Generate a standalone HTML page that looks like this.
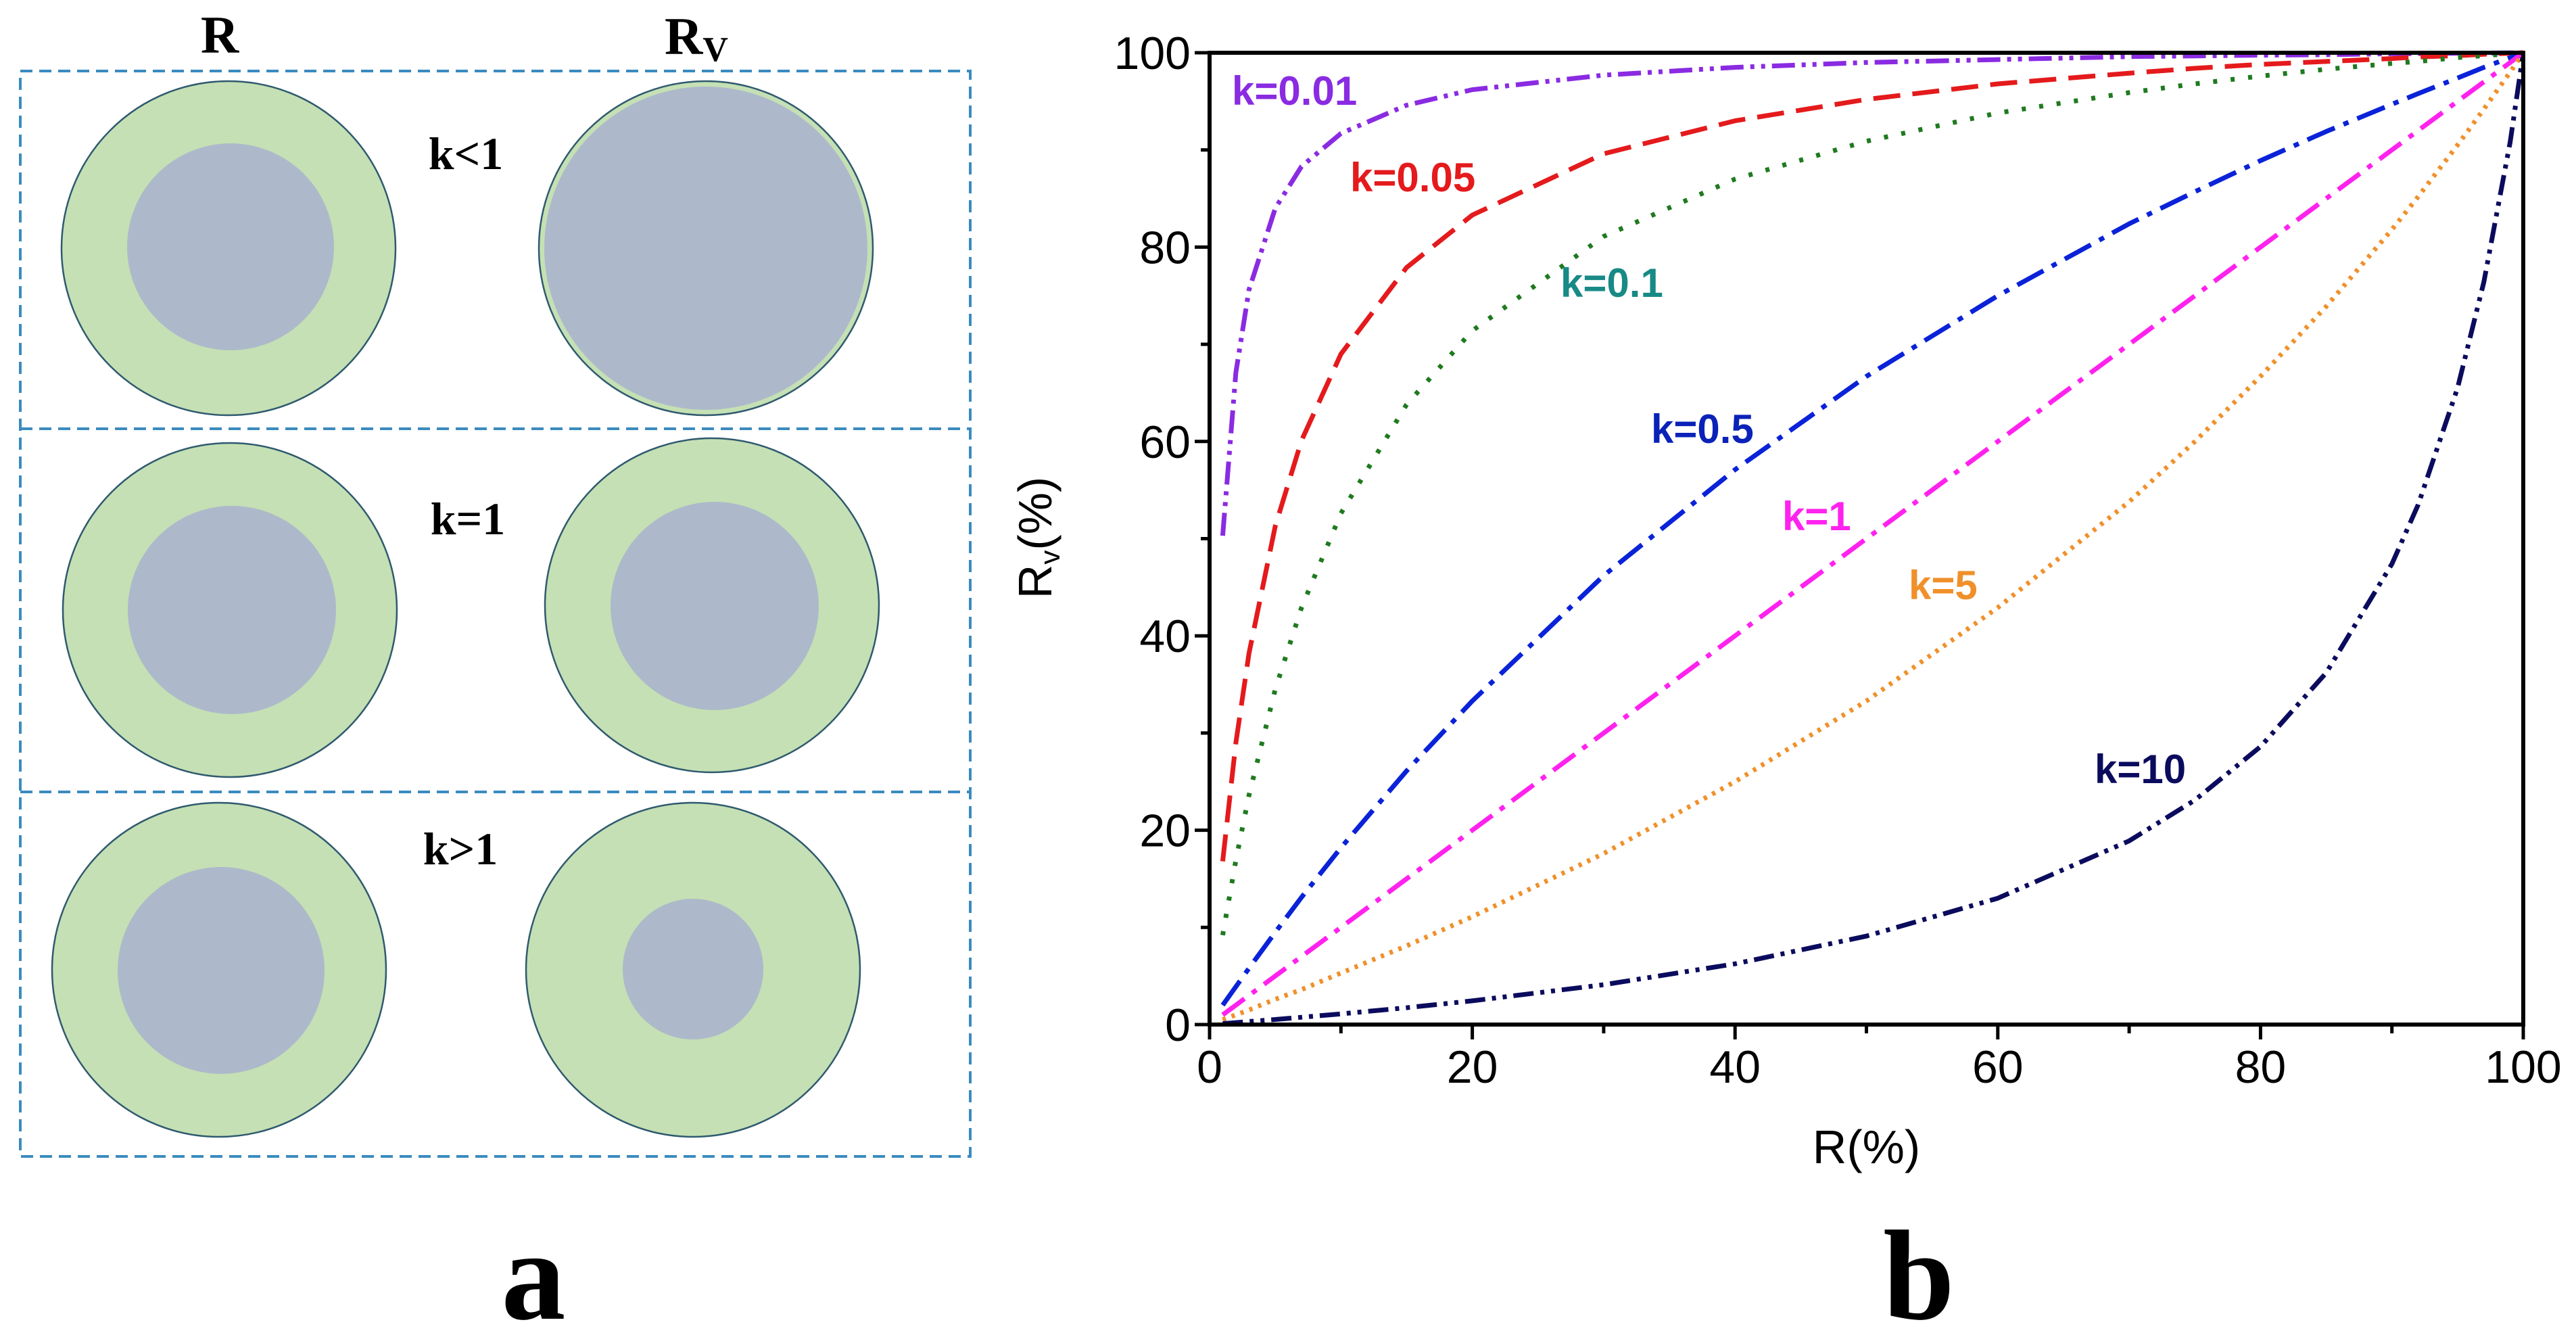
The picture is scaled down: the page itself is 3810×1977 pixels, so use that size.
<!DOCTYPE html>
<html><head><meta charset="utf-8"><style>
html,body{margin:0;padding:0;background:#fff;}
svg{display:block;}
</style></head><body>
<svg id="fig" width="3810" height="1977" viewBox="0 0 3810 1977" xmlns="http://www.w3.org/2000/svg">
<g id="panelA">
  <g fill="none" stroke="#3a8bbf" stroke-width="4" stroke-dasharray="18,10">
    <rect x="30" y="105" width="1405" height="1605"/>
    <line x1="30" y1="634" x2="1435" y2="634"/>
    <line x1="30" y1="1171" x2="1435" y2="1171"/>
  </g>
  <g stroke="#2f5a6f" stroke-width="2.5">
    <circle cx="338" cy="367" r="247" fill="#c5e0b4"/>
    <circle cx="341" cy="365" r="153" fill="#adb9ca" stroke="none"/>
    <circle cx="1044" cy="367" r="247" fill="#c5e0b4"/>
    <circle cx="1044" cy="367" r="239" fill="#adb9ca" stroke="none"/>
    <circle cx="340" cy="902" r="247" fill="#c5e0b4"/>
    <circle cx="343" cy="902" r="154" fill="#adb9ca" stroke="none"/>
    <circle cx="1053" cy="895" r="247" fill="#c5e0b4"/>
    <circle cx="1057" cy="896" r="154" fill="#adb9ca" stroke="none"/>
    <circle cx="324" cy="1434" r="247" fill="#c5e0b4"/>
    <circle cx="327" cy="1435" r="153" fill="#adb9ca" stroke="none"/>
    <circle cx="1025" cy="1434" r="247" fill="#c5e0b4"/>
    <circle cx="1025" cy="1433" r="104" fill="#adb9ca" stroke="none"/>
  </g>
  <g font-family="Liberation Serif, serif" font-weight="bold" fill="#000" text-anchor="middle">
    <text x="325" y="78" font-size="78">R</text>
    <text x="1030" y="80" font-size="78">R<tspan font-size="52" dy="10">V</tspan></text>
    <text x="689" y="250" font-size="68">k&lt;1</text>
    <text x="692" y="790" font-size="68">k=1</text>
    <text x="681" y="1278" font-size="68">k&gt;1</text>
    <text x="789" y="1950" font-size="190">a</text>
    <text x="2838" y="1950" font-size="190">b</text>
  </g>
</g>
<g id="chart"></g>
</svg>
<script>
const rValues = [1,2,3,5,7,10,15,20,30,40,50,60,70,75,80,85,90,92,95,97,99,100];
const seriesK001 = [50.3,67.1,75.6,84.0,88.3,91.7,94.6,96.2,97.7,98.5,99.0,99.3,99.6,99.67,99.75,99.8,99.9,99.91,99.95,99.97,99.99,100];
const seriesK005 = [16.8,29.0,38.2,51.3,60.1,69.0,77.9,83.3,89.6,93.0,95.2,96.8,97.9,98.4,98.8,99.1,99.4,99.57,99.7,99.85,99.95,100];
const seriesK01 = [9.2,16.9,23.6,34.5,42.9,52.6,63.8,71.4,81.1,87.0,90.9,93.8,95.9,96.8,97.6,98.3,98.9,99.1,99.5,99.7,99.9,100];
const seriesK05 = [2.0,3.9,5.8,9.5,13.1,18.2,26.1,33.3,46.2,57.1,66.7,75.0,82.4,85.7,88.9,91.9,94.7,95.8,97.4,98.5,99.5,100];
const seriesK1 = [1,2,3,5,7,10,15,20,30,40,50,60,70,75,80,85,90,92,95,97,99,100];
const seriesK5 = [0.5,1.0,1.5,2.6,3.6,5.3,8.1,11.1,17.6,25.0,33.3,42.9,53.8,60.0,66.7,73.9,81.8,85.2,90.5,94.2,98.0,100];
const seriesK10 = [0.1,0.2,0.31,0.52,0.75,1.1,1.73,2.44,4.1,6.25,9.1,13.0,18.9,23.1,28.6,36.2,47.4,53.5,65.5,76.4,90.8,100];
const xTickLabels = ["0","20","40","60","80","100"];
const yTickLabels = ["0","20","40","60","80","100"];

const NS = "http://www.w3.org/2000/svg";
const chart = document.getElementById("chart");
const X0 = 1789, X1 = 3732, Y0 = 1515, Y1 = 78;
function xs(v){ return X0 + (X1 - X0) * v / 100; }
function ys(v){ return Y0 - (Y0 - Y1) * v / 100; }
function mk(tag, attrs){ const e = document.createElementNS(NS, tag); for (const k in attrs) e.setAttribute(k, attrs[k]); chart.appendChild(e); return e; }

const series = [
  {d: seriesK001, c: "#8a2be2", dash: "34,10,6,10,6,10", name: "k-0-01", label: "k=0.01", lc: "#8a2be2", lx: 1822, ly: 139},
  {d: seriesK005, c: "#e41a1c", dash: "40,18", name: "k-0-05", label: "k=0.05", lc: "#e41a1c", lx: 1997, ly: 267},
  {d: seriesK01, c: "#1f7a1f", dash: "6,20", name: "k-0-1", label: "k=0.1", lc: "#178a86", lx: 2308, ly: 423},
  {d: seriesK05, c: "#0a22d8", dash: "44,14,8,14", name: "k-0-5", label: "k=0.5", lc: "#0a22b8", lx: 2442, ly: 639},
  {d: seriesK1, c: "#ff22ee", dash: "40,14,8,14", name: "k-1", label: "k=1", lc: "#ff22ee", lx: 2636, ly: 768},
  {d: seriesK5, c: "#f0902a", dash: "5,9", name: "k-5", label: "k=5", lc: "#f0902a", lx: 2823, ly: 870},
  {d: seriesK10, c: "#0b0b5e", dash: "30,10,6,10,6,10", name: "k-10", label: "k=10", lc: "#0b0b5e", lx: 3098, ly: 1142}
];
series.forEach(s => {
  const pts = rValues.map((r,i) => xs(r).toFixed(1) + "," + ys(s.d[i]).toFixed(1)).join(" ");
  const pl = mk("polyline", {points: pts, fill: "none", stroke: s.c, "stroke-width": 7, "stroke-dasharray": s.dash, "stroke-linejoin": "round"});
  
  
  const t = mk("text", {x: s.lx, y: s.ly, fill: s.lc, "font-family": "Liberation Sans, sans-serif", "font-weight": "bold", "font-size": 60, "dominant-baseline": "middle"});
  t.textContent = s.label;
  
  
});

const frame = mk("rect", {x: X0, y: Y1, width: X1 - X0, height: Y0 - Y1, fill: "none", stroke: "#000", "stroke-width": 6});



for (let v = 0; v <= 100; v += 10) {
  const major = v % 20 === 0;
  const L = major ? 22 : 13;
  const tx = mk("line", {x1: xs(v), y1: Y0, x2: xs(v), y2: Y0 + L, stroke: "#000", "stroke-width": 5});
  
  
  const ty = mk("line", {x1: X0, y1: ys(v), x2: X0 - L, y2: ys(v), stroke: "#000", "stroke-width": 5});
  
  
}
xTickLabels.forEach(lbl => {
  const v = parseFloat(lbl);
  const t = mk("text", {x: xs(v), y: Y0 + 86, "text-anchor": "middle", "font-family": "Liberation Sans, sans-serif", "font-size": 68, fill: "#000"});
  t.textContent = lbl;
  
  
});
yTickLabels.forEach(lbl => {
  const v = parseFloat(lbl);
  const t = mk("text", {x: X0 - 28, y: ys(v) + 24, "text-anchor": "end", "font-family": "Liberation Sans, sans-serif", "font-size": 68, fill: "#000"});
  t.textContent = lbl;
  
  
});
const xt = mk("text", {x: (X0 + X1) / 2, y: 1720, "text-anchor": "middle", "font-family": "Liberation Sans, sans-serif", "font-size": 70, fill: "#000"});
xt.textContent = "R(%)";


const yt = mk("text", {x: 0, y: 0, transform: "translate(1555,795) rotate(-90)", "text-anchor": "middle", "font-family": "Liberation Sans, sans-serif", "font-size": 70, fill: "#000"});
yt.innerHTML = 'R<tspan font-size="42" dy="12">v</tspan><tspan dy="-12">(%)</tspan>';


</script>
</body></html>
